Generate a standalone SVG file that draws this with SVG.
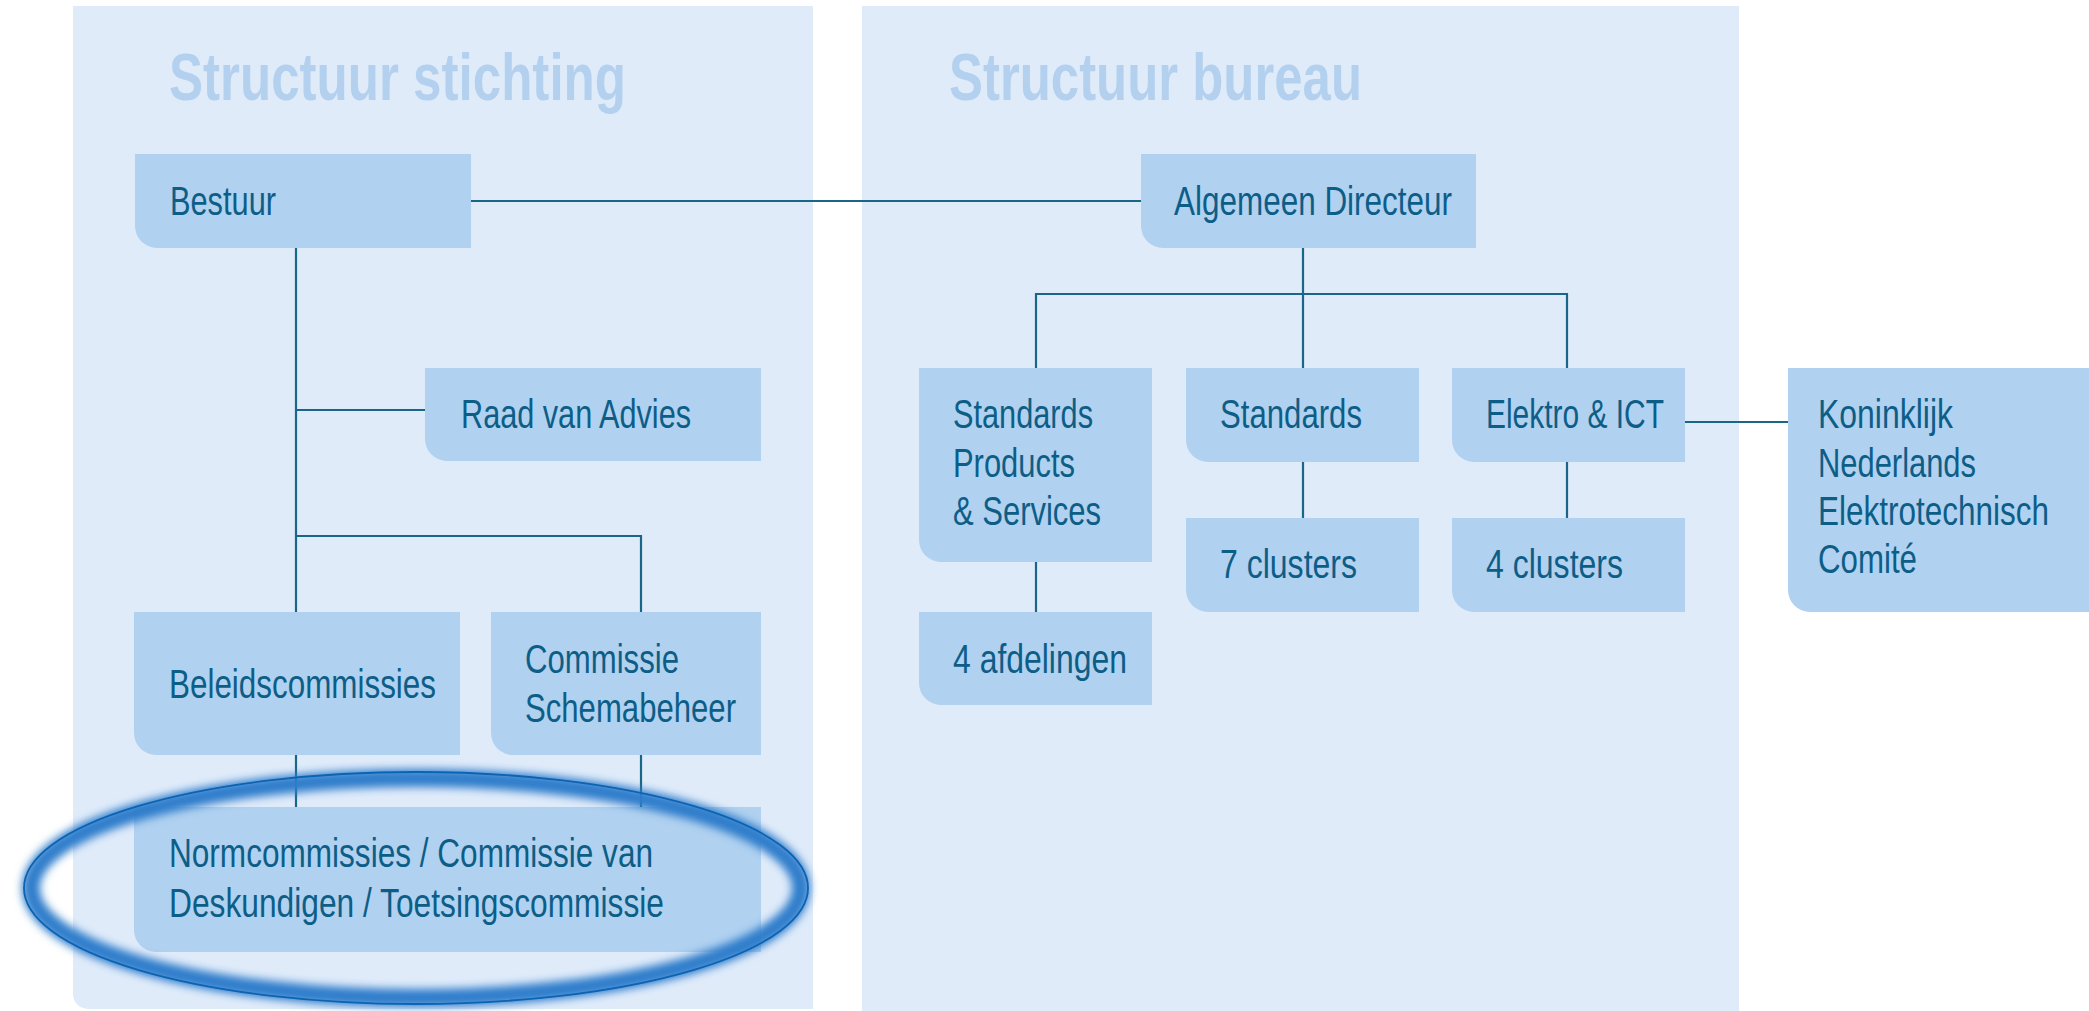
<svg xmlns="http://www.w3.org/2000/svg" width="2089" height="1011" viewBox="0 0 2089 1011">
  <defs>
    <style>
      .panel { fill: #E0EBFA; }
      .title { font-family: "Liberation Sans", Arial, sans-serif; font-weight: bold; font-size: 67px; fill: #B3D1EF; }
      .box { fill: #B1D1F0; }
      .lbl { font-family: "Liberation Sans", Arial, sans-serif; font-size: 40px; fill: #0D5E87; }
      .conn { fill: none; stroke: #1A6688; stroke-width: 2.2; }
    </style>
    <filter id="glow" x="-10%" y="-30%" width="120%" height="160%">
      <feGaussianBlur stdDeviation="4"/>
    </filter>
  </defs>

  <rect width="2089" height="1011" fill="#FFFFFF"/>

  <!-- panels -->
  <g id="panel-stichting">
    <path class="panel" d="M73,6 H813 V1009 H88 A15,15 0 0 1 73,994 Z"/>
    <text class="title" x="169" y="100" textLength="457" lengthAdjust="spacingAndGlyphs">Structuur stichting</text>
  </g>
  <g id="panel-bureau">
    <path class="panel" d="M862,6 H1739 V1011 H862 Z"/>
    <text class="title" x="949" y="100" textLength="413" lengthAdjust="spacingAndGlyphs">Structuur bureau</text>
  </g>

  <!-- connectors -->
  <g id="connectors">
    <path class="conn" d="M471,201 H1141" stroke-width="3"/>
    <path class="conn" d="M296,248 V612"/>
    <path class="conn" d="M296,410 H425"/>
    <path class="conn" d="M296,536 H641 V612"/>
    <path class="conn" d="M296,755 V807"/>
    <path class="conn" d="M641,755 V807"/>
    <path class="conn" d="M1303,248 V368"/>
    <path class="conn" d="M1036,368 V294 H1567 V368"/>
    <path class="conn" d="M1036,562 V612"/>
    <path class="conn" d="M1303,462 V518"/>
    <path class="conn" d="M1567,462 V518"/>
    <path class="conn" d="M1685,422 H1788" stroke-width="3"/>
  </g>

  <!-- nodes -->
  <g id="bestuur">
    <path class="box" d="M135,154 H471 V248 H157 A22,22 0 0 1 135,226 Z"/>
    <text class="lbl" x="170" y="215" textLength="106" lengthAdjust="spacingAndGlyphs">Bestuur</text>
  </g>
  <g id="algemeen-directeur">
    <path class="box" d="M1141,154 H1476 V248 H1163 A22,22 0 0 1 1141,226 Z"/>
    <text class="lbl" x="1174" y="215" textLength="278" lengthAdjust="spacingAndGlyphs">Algemeen Directeur</text>
  </g>
  <g id="raad-van-advies">
    <path class="box" d="M425,368 H761 V461 H447 A22,22 0 0 1 425,439 Z"/>
    <text class="lbl" x="461" y="428" textLength="230" lengthAdjust="spacingAndGlyphs">Raad van Advies</text>
  </g>
  <g id="beleidscommissies">
    <path class="box" d="M134,612 H460 V755 H156 A22,22 0 0 1 134,733 Z"/>
    <text class="lbl" x="169" y="698" textLength="267" lengthAdjust="spacingAndGlyphs">Beleidscommissies</text>
  </g>
  <g id="commissie-schemabeheer">
    <path class="box" d="M491,612 H761 V755 H513 A22,22 0 0 1 491,733 Z"/>
    <text class="lbl" x="525" y="673" textLength="154" lengthAdjust="spacingAndGlyphs">Commissie</text>
    <text class="lbl" x="525" y="722" textLength="211" lengthAdjust="spacingAndGlyphs">Schemabeheer</text>
  </g>
  <g id="normcommissies">
    <path class="box" d="M134,807 H761 V952 H156 A22,22 0 0 1 134,930 Z"/>
    <text class="lbl" x="169" y="867" textLength="484" lengthAdjust="spacingAndGlyphs">Normcommissies / Commissie van</text>
    <text class="lbl" x="169" y="917" textLength="495" lengthAdjust="spacingAndGlyphs">Deskundigen / Toetsingscommissie</text>
  </g>
  <g id="standards-products-services">
    <path class="box" d="M919,368 H1152 V562 H941 A22,22 0 0 1 919,540 Z"/>
    <text class="lbl" x="953" y="428" textLength="140" lengthAdjust="spacingAndGlyphs">Standards</text>
    <text class="lbl" x="953" y="477" textLength="122" lengthAdjust="spacingAndGlyphs">Products</text>
    <text class="lbl" x="953" y="525" textLength="148" lengthAdjust="spacingAndGlyphs">&amp; Services</text>
  </g>
  <g id="vier-afdelingen">
    <path class="box" d="M919,612 H1152 V705 H941 A22,22 0 0 1 919,683 Z"/>
    <text class="lbl" x="953" y="673" textLength="174" lengthAdjust="spacingAndGlyphs">4 afdelingen</text>
  </g>
  <g id="standards">
    <path class="box" d="M1186,368 H1419 V462 H1208 A22,22 0 0 1 1186,440 Z"/>
    <text class="lbl" x="1220" y="428" textLength="142" lengthAdjust="spacingAndGlyphs">Standards</text>
  </g>
  <g id="zeven-clusters">
    <path class="box" d="M1186,518 H1419 V612 H1208 A22,22 0 0 1 1186,590 Z"/>
    <text class="lbl" x="1220" y="578" textLength="137" lengthAdjust="spacingAndGlyphs">7 clusters</text>
  </g>
  <g id="elektro-ict">
    <path class="box" d="M1452,368 H1685 V462 H1474 A22,22 0 0 1 1452,440 Z"/>
    <text class="lbl" x="1486" y="428" textLength="178" lengthAdjust="spacingAndGlyphs">Elektro &amp; ICT</text>
  </g>
  <g id="vier-clusters">
    <path class="box" d="M1452,518 H1685 V612 H1474 A22,22 0 0 1 1452,590 Z"/>
    <text class="lbl" x="1486" y="578" textLength="137" lengthAdjust="spacingAndGlyphs">4 clusters</text>
  </g>
  <g id="knec">
    <path class="box" d="M1788,368 H2089 V612 H1810 A22,22 0 0 1 1788,590 Z"/>
    <text class="lbl" x="1818" y="428" textLength="135" lengthAdjust="spacingAndGlyphs">Koninklijk</text>
    <text class="lbl" x="1818" y="477" textLength="158" lengthAdjust="spacingAndGlyphs">Nederlands</text>
    <text class="lbl" x="1818" y="525" textLength="231" lengthAdjust="spacingAndGlyphs">Elektrotechnisch</text>
    <text class="lbl" x="1818" y="573" textLength="99" lengthAdjust="spacingAndGlyphs">Comité</text>
  </g>

  <!-- highlight ellipse -->
  <g id="highlight">
    <ellipse cx="416" cy="888" rx="385" ry="110" fill="none" stroke="#2F7DCB" stroke-width="18" filter="url(#glow)"/>
    <ellipse cx="416" cy="888" rx="392" ry="116" fill="none" stroke="#0A63B3" stroke-width="1.8"/>
  </g>
</svg>
